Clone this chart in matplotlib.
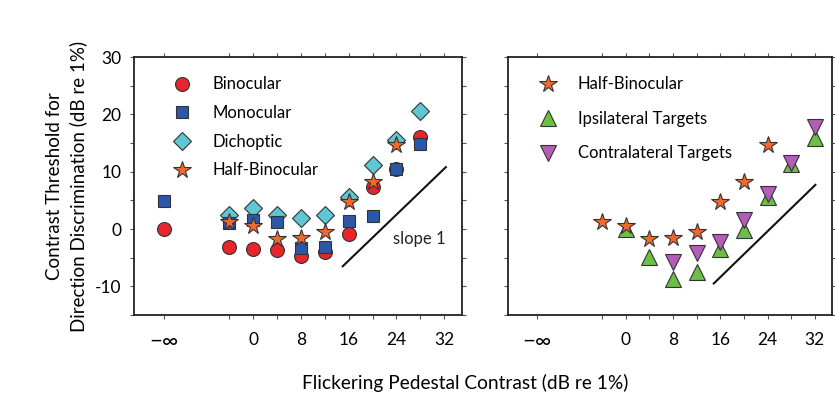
import matplotlib
matplotlib.use("Agg")
import matplotlib.pyplot as plt
import numpy as np

plt.rcParams['font.family'] = ['Lato', 'DejaVu Sans']
plt.rcParams['axes.unicode_minus'] = False

# Pedestal contrast in dB; -15 stands in for the "-inf" (no pedestal) condition
NEG_INF = -15
x_left = [NEG_INF, -4, 0, 4, 8, 12, 16, 20, 24, 28]
binocular = [0.0, -3.1, -3.5, -3.7, -4.7, -4.0, -0.9, 7.4, 10.5, 16.0]
monocular = [4.8, 1.0, 1.5, 1.2, -3.3, -3.1, 1.4, 2.3, 10.5, 14.9]

x_dich = [-4, 0, 4, 8, 12, 16, 20, 24, 28]
dichoptic = [2.4, 3.7, 2.4, 2.0, 2.5, 5.5, 11.1, 15.5, 20.5]

x_half = [-4, 0, 4, 8, 12, 16, 20, 24]
half_binocular = [1.2, 0.5, -1.7, -1.6, -0.5, 4.7, 8.2, 14.6]

x_ipsi = [0, 4, 8, 12, 16, 20, 24, 28, 32]
ipsilateral = [0.0, -4.8, -8.7, -7.5, -3.5, -0.1, 5.5, 11.3, 15.9]

x_contra = [8, 12, 16, 20, 24, 28, 32]
contralateral = [-5.8, -4.2, -2.3, 1.6, 6.1, 11.5, 17.8]

# Reference lines of slope 1
slope_left_x = [15.0, 32.3]
slope_left_y = [-6.5, 10.8]
slope_right_x = [14.9, 32.1]
slope_right_y = [-9.5, 7.7]

x_ticks = [NEG_INF, -4, 0, 4, 8, 12, 16, 20, 24, 28, 32]
x_tick_labels = ['\u2212\u221e', '', '0', '', '8', '', '16', '', '24', '', '32']
y_ticks = [-15, -10, -5, 0, 5, 10, 15, 20, 25, 30]
y_tick_labels = ['', '-10', '', '0', '', '10', '', '20', '', '30']

C_RED = '#e8252b'
C_BLUE = '#2c57a8'
C_CYAN = '#5ec7d3'
C_ORANGE = '#f2692e'
C_GREEN = '#6cbe45'
C_PURPLE = '#b45db8'
EDGE = '#333333'
EW = 0.8
LEG_FS = 12

fig = plt.figure(figsize=(8.35, 3.99), dpi=100)
ax1 = fig.add_axes([0.1605, 0.2105, 0.3928, 0.6466])
ax2 = fig.add_axes([0.608, 0.2105, 0.389, 0.6466])

for ax in (ax1, ax2):
    ax.set_xlim(-20, 35)
    ax.set_ylim(-15, 30)
    ax.set_xticks(x_ticks)
    ax.set_yticks(y_ticks)
    ax.tick_params(direction='out', length=3, width=0.8, color='#555555',
                   top=True, right=True, labelsize=12.5, pad=6)
    ax.tick_params(axis='x', pad=9)
    ax.set_xticklabels(x_tick_labels)
    # the "-inf" label is set a little larger
    ax.get_xticklabels()[0].set_fontsize(16)
    for s in ax.spines.values():
        s.set_linewidth(1.3)
        s.set_color('#222222')

ax1.set_yticklabels(y_tick_labels)
ax2.set_yticklabels([])

ms = dict(markeredgecolor=EDGE, markeredgewidth=EW, linestyle='none')
ax1.plot(x_dich, dichoptic, marker='D', markersize=9, markerfacecolor=C_CYAN,
         label='Dichoptic', zorder=3, **ms)
ax1.plot(x_left, binocular, marker='o', markersize=10, markerfacecolor=C_RED,
         label='Binocular', zorder=4, **ms)
ax1.plot(x_left, monocular, marker='s', markersize=8.5, markerfacecolor=C_BLUE,
         label='Monocular', zorder=5, **ms)
ax1.plot(x_half, half_binocular, marker='*', markersize=13, markerfacecolor=C_ORANGE,
         label='Half-Binocular', zorder=6, **ms)
ax1.plot(slope_left_x, slope_left_y, color='#111111', lw=1.5, zorder=2)
ax1.text(27.9, -1.7, 'slope 1', fontsize=LEG_FS, ha='center', va='center', color='#222222')

h, l = ax1.get_legend_handles_labels()
order = [1, 2, 0, 3]
ax1.legend([h[i] for i in order], [l[i] for i in order], loc='upper left',
           bbox_to_anchor=(0.095, 0.925), frameon=False, numpoints=1,
           fontsize=LEG_FS, handlelength=2.0, handletextpad=0.86, labelspacing=0.76,
           borderpad=0, borderaxespad=0)

ax2.plot(x_ipsi, ipsilateral, marker='^', markersize=11, markerfacecolor=C_GREEN,
         label='Ipsilateral Targets', zorder=4, **ms)
ax2.plot(x_contra, contralateral, marker='v', markersize=11, markerfacecolor=C_PURPLE,
         label='Contralateral Targets', zorder=5, **ms)
ax2.plot(x_half, half_binocular, marker='*', markersize=13, markerfacecolor=C_ORANGE,
         label='Half-Binocular', zorder=6, **ms)
ax2.plot(slope_right_x, slope_right_y, color='#111111', lw=1.5, zorder=2)

h, l = ax2.get_legend_handles_labels()
order = [2, 0, 1]
ax2.legend([h[i] for i in order], [l[i] for i in order], loc='upper left',
           bbox_to_anchor=(0.074, 0.925), frameon=False, numpoints=1,
           fontsize=LEG_FS, handlelength=2.0, handletextpad=0.77, labelspacing=1.11,
           borderpad=0, borderaxespad=0)

ax1.set_ylabel('Contrast Threshold for\nDirection Discrimination (dB re 1%)',
               fontsize=13.5, labelpad=6, linespacing=1.4)
fig.text(0.557, 0.04, 'Flickering Pedestal Contrast (dB re 1%)', fontsize=13.8,
         ha='center', va='center')

fig.savefig('out.png', dpi=100)
